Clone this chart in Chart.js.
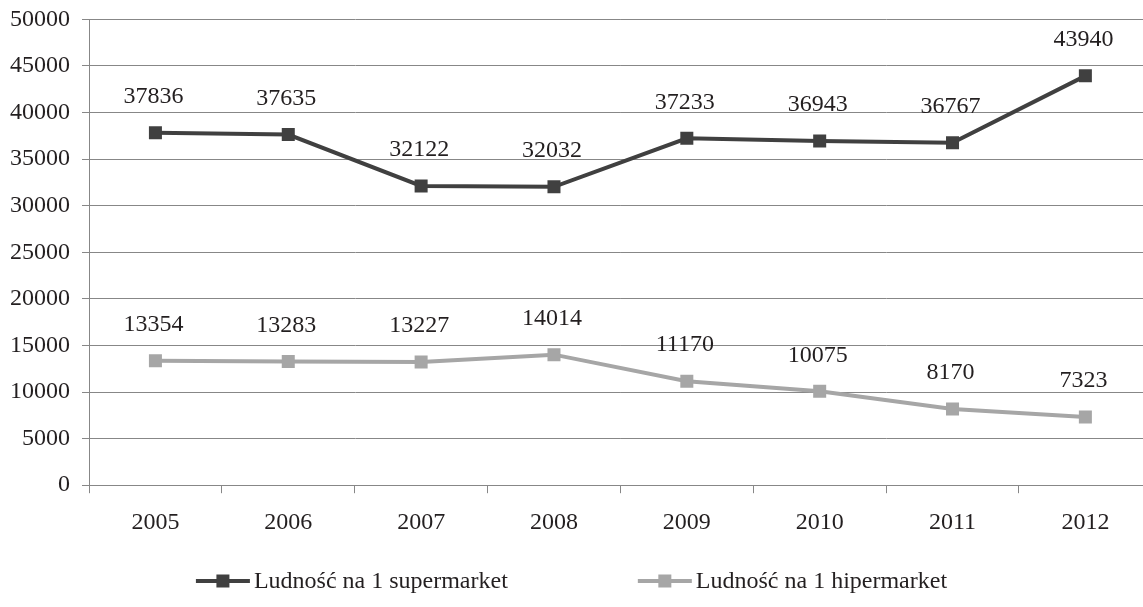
<!DOCTYPE html>
<html>
<head>
<meta charset="utf-8">
<script src="https://cdn.jsdelivr.net/npm/chart.js@4"></script>
<style>
  html, body { margin: 0; padding: 0; background: #fff; overflow: hidden; }
  #wrap { width: 1143px; height: 607px; overflow: hidden; }
  #chart { display: block; margin-top: -7px; }
</style>
</head>
<body>
<div id="wrap"><canvas id="chart" width="1161" height="614"></canvas></div>
<script>
const years = ['2005', '2006', '2007', '2008', '2009', '2010', '2011', '2012'];
const supermarket = [37836, 37635, 32122, 32032, 37233, 36943, 36767, 43940];
const hipermarket = [13354, 13283, 13227, 14014, 11170, 10075, 8170, 7323];
const seriesNames = ['Ludność na 1 supermarket', 'Ludność na 1 hipermarket'];

const FONT = "'Liberation Serif', 'Times New Roman', serif";
const TEXT = '#231f20';
const GRID = '#878787';
const VISIBLE_W = 1143;

// value labels above each point
const valueLabels = {
    id: 'valueLabels',
    afterDatasetsDraw(chart) {
        const ctx = chart.ctx;
        ctx.save();
        ctx.font = '24px ' + FONT;
        ctx.fillStyle = TEXT;
        ctx.textAlign = 'center';
        ctx.textBaseline = 'middle';
        chart.data.datasets.forEach((ds, i) => {
            chart.getDatasetMeta(i).data.forEach((pt, j) => {
                ctx.fillText(String(ds.data[j]), pt.x - 2, pt.y - 36);
            });
        });
        ctx.restore();
    }
};

// legend: line with square marker, wide gap between the two entries
const lineLegend = {
    id: 'lineLegend',
    afterDraw(chart) {
        const ctx = chart.ctx;
        const lineLen = 54, gap = 4, between = 130, y = chart.height - 26;
        ctx.save();
        ctx.font = '24px ' + FONT;
        ctx.textBaseline = 'middle';
        const items = chart.data.datasets.map(ds => ({
            ds, w: lineLen + gap + ctx.measureText(ds.label).width
        }));
        const total = items.reduce((s, it) => s + it.w, 0) + between * (items.length - 1);
        let x = VISIBLE_W / 2 - total / 2;
        items.forEach(it => {
            ctx.strokeStyle = it.ds.borderColor;
            ctx.lineWidth = 4;
            ctx.beginPath();
            ctx.moveTo(x, y);
            ctx.lineTo(x + lineLen, y);
            ctx.stroke();
            ctx.fillStyle = it.ds.pointBackgroundColor;
            ctx.fillRect(x + lineLen / 2 - 6.5, y - 6.5, 13, 13);
            ctx.fillStyle = TEXT;
            ctx.textAlign = 'left';
            ctx.fillText(it.ds.label, x + lineLen + gap, y + 1);
            x += it.w + between;
        });
        ctx.restore();
    }
};

new Chart(document.getElementById('chart'), {
    type: 'line',
    data: {
        labels: years,
        datasets: [{
            label: seriesNames[0],
            data: supermarket,
            borderColor: '#404040',
            backgroundColor: '#404040',
            pointBackgroundColor: '#404040',
            pointBorderWidth: 0,
            pointStyle: 'rect',
            pointRadius: 9.2,
            borderWidth: 4,
            tension: 0
        }, {
            label: seriesNames[1],
            data: hipermarket,
            borderColor: '#a6a6a6',
            backgroundColor: '#a6a6a6',
            pointBackgroundColor: '#a6a6a6',
            pointBorderWidth: 0,
            pointStyle: 'rect',
            pointRadius: 9.2,
            borderWidth: 4,
            tension: 0
        }]
    },
    options: {
        responsive: false,
        animation: false,
        layout: {
            padding: { top: 12, left: -2, right: 0, bottom: 55 }
        },
        plugins: {
            legend: { display: false },
            tooltip: { enabled: false }
        },
        scales: {
            x: {
                offset: true,
                grid: {
                    offset: true,
                    drawOnChartArea: false,
                    drawTicks: true,
                    tickLength: 8,
                    color: GRID
                },
                border: { color: GRID, width: 1 },
                ticks: {
                    color: TEXT,
                    padding: 15,
                    font: { family: FONT, size: 24 }
                }
            },
            y: {
                min: 0,
                max: 50000,
                grid: {
                    color: GRID,
                    tickLength: 7
                },
                border: { color: GRID, width: 1 },
                ticks: {
                    stepSize: 5000,
                    color: TEXT,
                    padding: 12,
                    font: { family: FONT, size: 24 },
                    callback: v => String(v)
                }
            }
        }
    },
    plugins: [valueLabels, lineLegend]
});
</script>
</body>
</html>
